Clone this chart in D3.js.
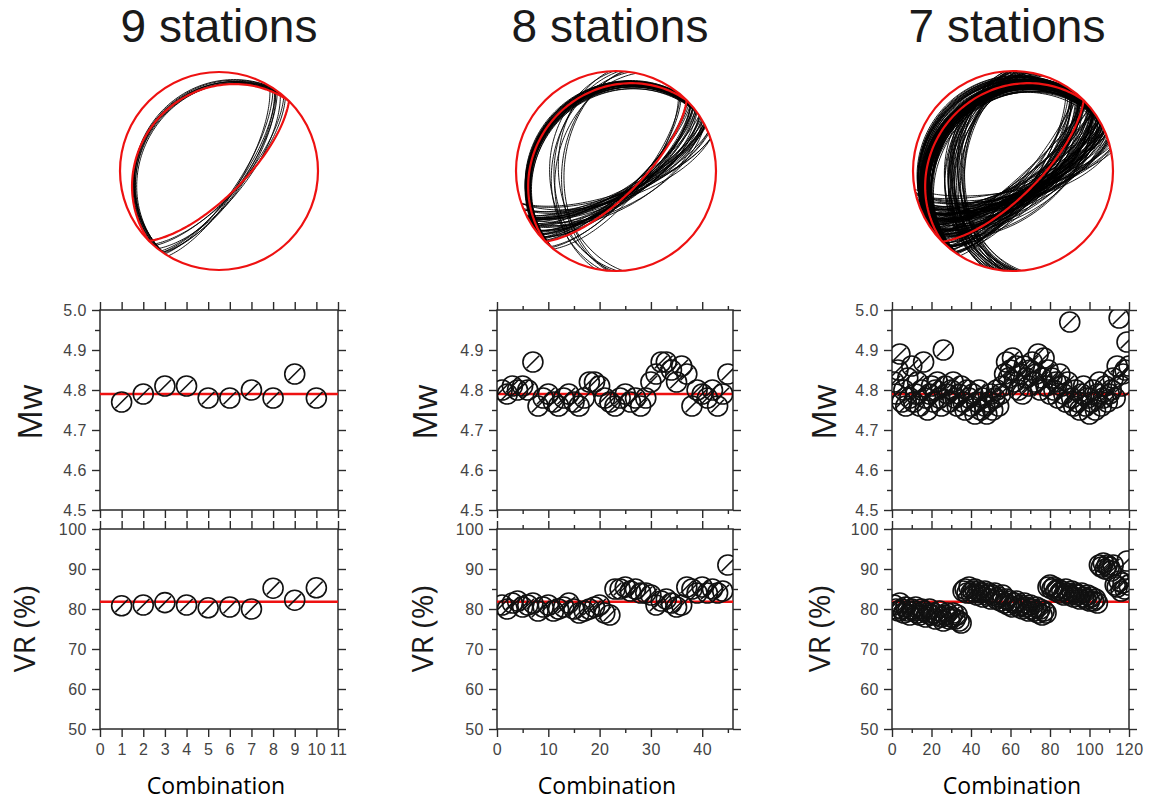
<!DOCTYPE html>
<html><head><meta charset="utf-8">
<script src="https://cdn.jsdelivr.net/npm/d3@7"></script>
<style>body{margin:0;background:#fff}</style>
</head><body><svg id="c" width="1151" height="803"></svg>
<script>
// ---------------- DATA ----------------
const titles = ["9 stations", "8 stations", "7 stations"];
const xAxisTitle = "Combination";
const mwTitle = "Mw";
const vrTitle = "VR (%)";

// reference (all-station) solution: strike, dip, rake
const refMech = [225, 20, 90];
const refMw = 4.79;
const refVr = 81.8;

// focal mechanisms of each combination: [strike, dip, rake]
const mech9 = [
  [216,20,90],[213,19,92],[220,21,88],[218,22,93],[212,18,89],
  [222,20,91],[215,23,87],[219,19,94],[214,21,90],[224,20,89]
];
const mech8 = [
  [225,20,85],[222,19,80],[228,21,88],[230,18,78],[226,22,83],[220,20,90],[232,23,76],[224,17,86],[229,24,81],[227,19,74],
  [223,21,92],[231,20,79],[219,18,84],[234,22,77],[225,23,87],[228,16,82],[221,22,75],[233,19,85],[226,25,80],[230,21,89],
  [218,20,78],[235,24,83],[224,19,73],[229,22,86],[227,18,91],[232,21,81],[222,24,84],[236,20,76],[225,17,88],[231,23,79],
  [220,21,82],[228,20,72],[233,25,87],[226,19,77],[223,23,94],[230,17,80],[227,22,85],[234,20,83],
  [182,38,35],[176,42,40],[188,36,32],[185,45,45],[179,34,30],[192,40,38],[184,47,42]
];
const mech7 = [
  [225,20,90],[220,22,85],[230,18,88],[215,25,82],[235,21,80],[228,24,86],[218,19,90],[240,23,84],[222,27,79],[232,16,91],
  [214,22,80],[226,26,87],[238,20,83],[216,18,92],[229,23,78],[236,25,85],[219,21,89],[224,28,81],[242,19,88],[212,24,84],
  [227,17,92],[233,22,77],[217,26,86],[231,20,82],[221,23,90],[239,27,80],[213,21,88],[234,18,76],[223,25,85],[228,19,91],
  [217,22,78],[237,24,84],[220,20,87],[244,22,82],[215,27,85],[230,26,89],[225,16,79],[235,28,86],[218,23,92],[226,21,75],
  [241,18,83],[214,25,89],[232,22,80],[222,19,86],[238,26,77],[216,20,91],[229,27,84],[219,24,76],[236,17,88],[224,23,81],
  [246,25,85],[212,19,90],[233,21,78],[221,28,87],[240,20,74],[215,22,89],[227,25,83],[231,18,80],[218,27,88],[237,22,86],
  [213,20,82],[234,24,79],[223,17,90],[228,26,76],[243,21,84],[217,23,87],[230,19,81],[225,24,85],[220,26,78],[239,18,89],
  [226,30,84],[232,29,80],[219,30,88],[236,12,86],[228,13,82],
  [185,36,35],[180,40,40],[190,38,32],[178,44,45],[195,34,30],[183,48,48],[188,42,38],[176,37,34],[192,46,44],[181,35,31],
  [186,50,50],[179,39,37],[194,43,41],[177,47,46],[189,36,33],[184,41,39],[197,38,36],[182,50,52],[191,33,29],[175,44,43],
  [187,47,47],[193,37,34],[180,45,42],[196,40,40],[178,38,35],[185,49,55],[190,44,44],[183,32,28],[198,42,38],[186,39,36],
  [230,10,90],[222,8,85],[238,11,88],[226,14,92],[218,12,88],[234,9,90],[242,13,86],[214,14,87],[228,7,90],[236,15,84],
  [224,11,84],[232,13,89],[220,10,91],[240,12,86],[226,9,83]
];

const mw9 = [4.77,4.79,4.81,4.81,4.78,4.78,4.80,4.78,4.84,4.78];
const vr9 = [80.8,81.0,81.6,81.0,80.3,80.5,80.0,85.2,82.2,85.3];

const mw8 = [4.80,4.79,4.81,4.80,4.81,4.80,4.87,4.76,4.78,4.79,
             4.77,4.76,4.78,4.79,4.77,4.76,4.78,4.82,4.82,4.81,
             4.78,4.77,4.76,4.78,4.79,4.77,4.78,4.76,4.78,4.82,
             4.84,4.87,4.87,4.85,4.82,4.86,4.84,4.76,4.80,4.79,
             4.78,4.80,4.76,4.79,4.84];
const vr8 = [81,80,81.5,82,80.5,81,81.5,79.5,80.5,81,
             79.5,80,80.5,81.5,80,79,79.5,80,80.5,81,
             79,78.5,85,85,85.5,84.5,85,84,84,83.5,
             81,82,82.5,81.5,80.5,81,85.5,85,84,85.5,
             84,85,84,84.5,91];

const mw7 = [4.82,4.79,4.85,4.89,4.77,4.80,4.76,4.83,4.78,4.86,
             4.77,4.79,4.82,4.76,4.80,4.87,4.78,4.75,4.79,4.81,
             4.77,4.80,4.82,4.78,4.76,4.90,4.81,4.79,4.77,4.80,
             4.82,4.78,4.76,4.79,4.81,4.77,4.75,4.80,4.78,4.76,
             4.79,4.74,4.77,4.80,4.75,4.78,4.76,4.74,4.77,4.79,
             4.75,4.78,4.80,4.76,4.79,4.81,4.84,4.87,4.83,4.85,
             4.88,4.82,4.86,4.80,4.84,4.79,4.86,4.83,4.81,4.85,
             4.87,4.82,4.84,4.89,4.80,4.83,4.88,4.81,4.85,4.79,
             4.83,4.80,4.82,4.78,4.84,4.81,4.79,4.77,4.82,4.97,
             4.78,4.76,4.80,4.77,4.75,4.79,4.81,4.76,4.78,4.74,
             4.77,4.80,4.75,4.79,4.82,4.76,4.78,4.81,4.77,4.79,
             4.80,4.83,4.78,4.86,4.98,4.81,4.84,4.85,4.92,4.86];
const vr7 = [81,80,79.5,81.5,80,79,80.5,79.5,78.5,80,
             79.5,80.5,79,78.5,80,79.5,78,79,80,78.5,
             79,77.5,78.5,79.5,78,77,78.5,79,77.5,78,
             79,77.5,78.5,77,76.5,84.5,85,84,85.5,84,
             84.5,85,83.5,84.5,84,83,84.5,83.5,84,82.5,
             83.5,84,82.5,83,82,83.5,81.5,82.5,81,82,
             80.5,81.5,82,80.5,81,80,81.5,80.5,79.5,81,
             80,79.5,80.5,79,80,78.5,79.5,79,85.5,86,
             85,85.5,84.5,85,84,84.5,83.5,85,84,83.5,
             84.5,83,84,83.5,82.5,84,83,82.5,83.5,82,
             83,82,82.5,81.5,91,90.5,91.5,90,91,90.5,
             89.5,91,86,85.5,87,84.5,86.5,85,92,86];

const mwTickLabels = [4.5,4.6,4.7,4.8,4.9,5.0];
const mwTickLabels8 = [4.5,4.6,4.7,4.8,4.9];
const vrTickLabels = [50,60,70,80,90,100];
const xTickLabels9 = [0,1,2,3,4,5,6,7,8,9,10,11];
const xTickLabels8 = [0,10,20,30,40];
const xTickLabels7 = [0,20,40,60,80,100,120];

// ---------------- LAYOUT ----------------
const svg = d3.select("#c");
const FONT = "'Open Sans', sans-serif";
const TITLEFONT = "'Liberation Sans', Arial, sans-serif";
const TICKFONT = "'Liberation Sans', Arial, sans-serif";
const mwTop = 310, mwBot = 510, vrTop = 529, vrBot = 729;
const panels = [
  {title: titles[0], cx: 219, cy: 171, R: 99, x0: 100, x1: 338, xMax: 11, major: 1, minor: null,
   xLabels: xTickLabels9, mwLabels: mwTickLabels, mech: mech9, mw: mw9, vr: vr9, mwLabX: 30, vrLabX: 24, combX: 216, titleX: 219},
  {title: titles[1], cx: 616, cy: 171, R: 100, x0: 497, x1: 733, xMax: 46, major: 10, minor: 5,
   xLabels: xTickLabels8, mwLabels: mwTickLabels8, mech: mech8, mw: mw8, vr: vr8, mwLabX: 425, vrLabX: 422, combX: 607, titleX: 610},
  {title: titles[2], cx: 1013, cy: 171, R: 100, x0: 892, x1: 1129, xMax: 120, major: 20, minor: 10,
   xLabels: xTickLabels7, mwLabels: mwTickLabels, mech: mech7, mw: mw7, vr: vr7, mwLabX: 824, vrLabX: 819, combX: 1012, titleX: 1007}
];

// ---------------- FOCAL MECHANISM GEOMETRY ----------------
const rad = Math.PI / 180;
function planeNormals(m) {
  const [s, d, r] = m.map(v => v * rad);
  const n = [-Math.sin(d) * Math.sin(s), Math.sin(d) * Math.cos(s), -Math.cos(d)];
  const sl = [Math.cos(r) * Math.cos(s) + Math.sin(r) * Math.cos(d) * Math.sin(s),
              Math.cos(r) * Math.sin(s) - Math.sin(r) * Math.cos(d) * Math.cos(s),
              -Math.sin(r) * Math.sin(d)];
  return [n, sl];
}
function cross(a, b) { return [a[1]*b[2]-a[2]*b[1], a[2]*b[0]-a[0]*b[2], a[0]*b[1]-a[1]*b[0]]; }
function norm(a) { const l = Math.hypot(a[0], a[1], a[2]); return a.map(v => v / l); }
const tSamples = d3.range(0, 181, 2).map(v => v * rad);
function greatCircle(nrm, cx, cy, R) {
  let s = norm([nrm[1], -nrm[0], 0]);
  let w = norm(cross(nrm, s));
  if (w[2] < 0) w = w.map(v => -v);
  return tSamples.map(t => {
    const p = [Math.cos(t)*s[0] + Math.sin(t)*w[0], Math.cos(t)*s[1] + Math.sin(t)*w[1], Math.max(0, Math.cos(t)*s[2] + Math.sin(t)*w[2])];
    const th = Math.acos(Math.min(1, p[2]));
    const rr = R * Math.SQRT2 * Math.sin(th / 2);
    const h = Math.hypot(p[0], p[1]);
    if (h < 1e-9) return [cx, cy];
    return [cx + rr * p[1] / h, cy - rr * p[0] / h];
  });
}
const line = d3.line();

// ---------------- DRAW ----------------
panels.forEach((P, pi) => {
  svg.append("text").attr("x", P.titleX).attr("y", 42).attr("text-anchor", "middle")
    .attr("font-family", TITLEFONT).attr("font-size", 46).attr("fill", "#1a1a1a").text(P.title);

  const bb = svg.append("g");
  const cid = "bbclip" + pi;
  svg.append("clipPath").attr("id", cid).append("circle").attr("cx", P.cx).attr("cy", P.cy).attr("r", P.R);
  const lines = bb.append("g").attr("clip-path", `url(#${cid})`);
  P.mech.forEach(m => {
    planeNormals(m).forEach(nrm => {
      lines.append("path").attr("d", line(greatCircle(nrm, P.cx, P.cy, P.R)))
        .attr("fill", "none").attr("stroke", "#000").attr("stroke-width", 0.9);
    });
  });
  planeNormals(refMech).forEach(nrm => {
    lines.append("path").attr("d", line(greatCircle(nrm, P.cx, P.cy, P.R)))
      .attr("fill", "none").attr("stroke", "#ee1111").attr("stroke-width", 2.2);
  });
  bb.append("circle").attr("cx", P.cx).attr("cy", P.cy).attr("r", P.R)
    .attr("fill", "none").attr("stroke", "#ee1111").attr("stroke-width", 2.2);

  const x = d3.scaleLinear().domain([0, P.xMax]).range([P.x0, P.x1]);
  const yMw = d3.scaleLinear().domain([4.5, 5.0]).range([mwBot, mwTop]);
  const yVr = d3.scaleLinear().domain([50, 100]).range([vrBot, vrTop]);

  const majorX = d3.range(0, P.xMax + 0.001, P.major);
  const minorX = P.minor ? d3.range(0, P.xMax + 0.001, P.minor).filter(v => v % P.major !== 0) : [];

  function styleAxis(g) {
    g.select(".domain").remove();
    g.selectAll(".tick line").attr("stroke", "#2a2a2a").attr("stroke-width", 1.4);
    g.selectAll(".tick text").attr("font-family", TICKFONT).attr("font-size", 16)
      .attr("letter-spacing", "0.5px").attr("fill", "#444");
  }

  function drawPanel(y, top, bot, majorY, minorY, yLabels, fmt, vals, ref, label, labX, labY, labSize, isBottom) {
    svg.append("rect").attr("x", P.x0).attr("y", top).attr("width", P.x1 - P.x0).attr("height", bot - top)
      .attr("fill", "none").attr("stroke", "#2a2a2a").attr("stroke-width", 1.5);
    svg.append("g").attr("transform", `translate(${P.x0},0)`)
      .call(d3.axisLeft(y).tickValues(minorY).tickSize(5).tickFormat("")).call(styleAxis);
    svg.append("g").attr("transform", `translate(${P.x0},0)`)
      .call(d3.axisLeft(y).tickValues(majorY).tickSize(8).tickPadding(5)
        .tickFormat(d => yLabels.includes(d) ? fmt(d) : "")).call(styleAxis);
    svg.append("g").attr("transform", `translate(${P.x1},0)`)
      .call(d3.axisRight(y).tickValues(minorY).tickSize(5).tickFormat("")).call(styleAxis);
    svg.append("g").attr("transform", `translate(${P.x1},0)`)
      .call(d3.axisRight(y).tickValues(majorY).tickSize(8).tickFormat("")).call(styleAxis);
    svg.append("g").attr("transform", `translate(0,${top})`)
      .call(d3.axisTop(x).tickValues(minorX).tickSize(4).tickFormat("")).call(styleAxis);
    svg.append("g").attr("transform", `translate(0,${top})`)
      .call(d3.axisTop(x).tickValues(majorX).tickSize(8).tickFormat("")).call(styleAxis);
    svg.append("g").attr("transform", `translate(0,${bot})`)
      .call(d3.axisBottom(x).tickValues(minorX).tickSize(4).tickFormat("")).call(styleAxis);
    svg.append("g").attr("transform", `translate(0,${bot})`)
      .call(d3.axisBottom(x).tickValues(majorX).tickSize(8).tickPadding(7)
        .tickFormat(d => (isBottom && P.xLabels.includes(d)) ? d : "")).call(styleAxis);

    const clipId = "pc" + pi + "_" + top;
    svg.append("clipPath").attr("id", clipId).append("rect")
      .attr("x", P.x0).attr("y", top).attr("width", P.x1 - P.x0).attr("height", bot - top);
    const g = svg.append("g").attr("clip-path", `url(#${clipId})`);
    g.append("line").attr("x1", P.x0).attr("x2", P.x1).attr("y1", y(ref)).attr("y2", y(ref))
      .attr("stroke", "#ee1111").attr("stroke-width", 2.4);
    const mk = g.selectAll("g.mk").data(vals).join("g").attr("class", "mk")
      .attr("transform", (d, i) => `translate(${x(i + 1)},${y(d)})`);
    mk.append("circle").attr("r", 10).attr("fill", "none").attr("stroke", "#111").attr("stroke-width", 1.6);
    mk.append("line").attr("x1", -6.3).attr("y1", 6.3).attr("x2", 6.3).attr("y2", -6.3)
      .attr("stroke", "#111").attr("stroke-width", 1.6);

    svg.append("text").attr("transform", `translate(${labX},${labY}) rotate(-90)`)
      .attr("text-anchor", "middle").attr("dy", "0.36em")
      .attr("font-family", FONT).attr("font-size", labSize).attr("fill", "#1a1a1a").text(label);
  }

  drawPanel(yMw, mwTop, mwBot, d3.range(4.5, 5.001, 0.1).map(v => +v.toFixed(2)),
    [4.55, 4.65, 4.75, 4.85, 4.95], P.mwLabels, d3.format(".1f"), P.mw, refMw, mwTitle, P.mwLabX, 412, 33, false);
  drawPanel(yVr, vrTop, vrBot, vrTickLabels, [55, 65, 75, 85, 95], vrTickLabels, d3.format("d"),
    P.vr, refVr, vrTitle, P.vrLabX, 629, 30, true);

  svg.append("text").attr("x", P.combX).attr("y", 794).attr("text-anchor", "middle")
    .attr("font-family", FONT).attr("font-size", 23).attr("fill", "#000").text(xAxisTitle);
});
</script>
</body></html>
